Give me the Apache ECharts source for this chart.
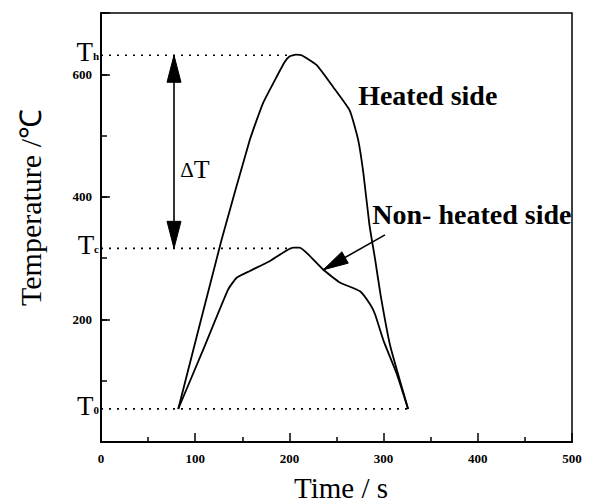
<!DOCTYPE html>
<html><head><meta charset="utf-8">
<script src="https://cdn.jsdelivr.net/npm/echarts@6/dist/echarts.min.js"></script>
<style>html,body{margin:0;padding:0;background:#fff}#c{width:593px;height:504px}</style>
</head><body><div id="c"></div>
<script>
// ---- data ----
const heatedTime = [82, 128, 158, 172, 186.5, 195, 200, 207, 213, 229, 246.6, 264, 273, 278.5, 285, 291, 297, 307, 326];
const heatedTemp = [54, 330, 493, 553, 596, 620, 629, 632, 631, 615, 579, 541, 493, 439, 354, 298, 238, 157, 54];
const nonHeatedTime = [82, 108.6, 135, 144, 158, 179, 204, 211, 220, 236, 254, 275, 286, 291, 300, 314, 326];
const nonHeatedTemp = [54, 151, 249, 268, 279, 295, 317, 317, 306, 281, 260, 246, 224, 208, 165, 111, 54];

const xTickLabels = [0, 100, 200, 300, 400, 500];
const yTickLabels = [200, 400, 600];

// reference levels Th, Tc, T0
const refNames = ['h', 'c', '0'];
const refTemp = [631, 316, 54];
const refEndTime = [200, 203, 326];

// text notes
const noteText = ['Heated side', 'Non- heated side'];
const noteTime = [273, 288];
const noteTemp = [565, 372];
const deltaText = 'ΔT';
const deltaTime = 84;
const deltaTemp = 444;

// arrows: from -> to, doubleHead flag
const arrowFromTime = [77.5, 301.5];
const arrowFromTemp = [316, 338];
const arrowToTime = [77.5, 236];
const arrowToTemp = [631, 281];
const arrowDouble = [1, 0];

const serif = "'Liberation Serif','Times New Roman',serif";
const pairs = (xs, ys) => xs.map((x, i) => [x, ys[i]]);

const chart = echarts.init(document.getElementById('c'), null, {renderer: 'svg'});

const refSeries = refTemp.map((v, i) => ({
  type: 'line', silent: true, showSymbol: false, symbol: 'none',
  data: [[0, v], [refEndTime[i], v]],
  lineStyle: {color: '#000', width: 1.6, type: [2, 6]},
  z: 2
}));

function arrowHead(tip, tail, L, W) {
  const dx = tip[0] - tail[0], dy = tip[1] - tail[1];
  const len = Math.hypot(dx, dy) || 1;
  const ux = dx / len, uy = dy / len;
  const bx = tip[0] - ux * L, by = tip[1] - uy * L;
  return {type: 'polygon', shape: {points: [tip, [bx - uy * W / 2, by + ux * W / 2], [bx + uy * W / 2, by - ux * W / 2]]},
    style: {fill: '#000', stroke: '#000', lineWidth: 1}};
}

const option = {
  animation: false,
  backgroundColor: '#fff',
  grid: {left: 101, top: 13, right: 21, bottom: 62, show: true, borderColor: '#000', borderWidth: 1.5,
    backgroundColor: 'transparent', containLabel: false, outerBoundsMode: 'none'},
  xAxis: {
    type: 'value', min: 0, max: 500, interval: 100,
    name: 'Time / s', nameLocation: 'middle', nameGap: 31, nameMoveOverlap: false,
    nameTextStyle: {fontFamily: serif, fontSize: 29, color: '#000', padding: [0, 0, 0, 9]},
    axisLine: {show: true, onZero: false, lineStyle: {color: '#000', width: 2}},
    axisTick: {show: true, inside: true, length: 9, lineStyle: {color: '#000', width: 1.5}},
    minorTick: {show: true, splitNumber: 2, length: 5, lineStyle: {color: '#000', width: 1.5}},
    axisLabel: {margin: 10, fontFamily: serif, fontWeight: 'bold', fontSize: 13, color: '#000',
      showMinLabel: true, showMaxLabel: true, hideOverlap: false,
      formatter: v => xTickLabels.includes(v) ? String(v) : ''},
    splitLine: {show: false}, minorSplitLine: {show: false}
  },
  yAxis: [{
    type: 'value', min: 0, max: 700, interval: 200, position: 'left',
    name: 'Temperature /℃', nameLocation: 'middle', nameGap: 56, nameRotate: 90, nameMoveOverlap: false,
    nameTextStyle: {fontFamily: serif, fontSize: 30, color: '#000', padding: [0, 0, 0, 40]},
    axisLine: {show: true, onZero: false, lineStyle: {color: '#000', width: 2}},
    axisTick: {show: true, inside: true, length: 9, lineStyle: {color: '#000', width: 1.5}},
    axisLabel: {margin: 9, fontFamily: serif, fontWeight: 'bold', fontSize: 13, color: '#000',
      showMinLabel: true, showMaxLabel: true, hideOverlap: false,
      formatter: v => yTickLabels.includes(v) ? String(v) : ''},
    splitLine: {show: false}
  }, {
    type: 'value', min: 0, max: 700, interval: 100, position: 'left',
    axisLine: {show: false},
    axisTick: {show: true, inside: true, length: 6, lineStyle: {color: '#000', width: 1.5}},
    axisLabel: {show: false},
    splitLine: {show: false}
  }],
  series: [
    {type: 'line', name: 'Heated side', data: pairs(heatedTime, heatedTemp), showSymbol: false, symbol: 'none',
      smooth: 0.15, lineStyle: {color: '#000', width: 1.8}, silent: true, z: 3},
    {type: 'line', name: 'Non- heated side', data: pairs(nonHeatedTime, nonHeatedTemp), showSymbol: false, symbol: 'none',
      smooth: 0.15, lineStyle: {color: '#000', width: 1.8}, silent: true, z: 3},
    ...refSeries,
    {
      type: 'custom', silent: true, z: 5, clip: false,
      data: arrowFromTime.map((t, i) => [t, arrowFromTemp[i], arrowToTime[i], arrowToTemp[i], arrowDouble[i]]),
      renderItem: (p, api) => {
        const a = api.coord([api.value(0), api.value(1)]);
        const b = api.coord([api.value(2), api.value(3)]);
        const both = api.value(4) === 1;
        const L = both ? 27 : 25, W = both ? 14 : 13;
        const children = [
          {type: 'line', shape: {x1: a[0], y1: a[1], x2: b[0], y2: b[1]}, style: {stroke: '#000', lineWidth: 1.6}},
          arrowHead(b, a, L, W)
        ];
        if (both) children.push(arrowHead(a, b, L, W));
        return {type: 'group', children};
      }
    },
    {
      type: 'custom', silent: true, z: 6, clip: false,
      data: refTemp.map((v, i) => [0, v, i]),
      renderItem: (p, api) => {
        const pt = api.coord([api.value(0), api.value(1)]);
        const i = api.value(2);
        return {type: 'text', x: pt[0] - 2, y: pt[1] - 3,
          style: {text: '{T|T}{s|' + refNames[i] + '}', align: 'right', verticalAlign: 'middle',
            rich: {T: {fontSize: 27, fontFamily: serif, fill: '#000'},
                   s: {fontSize: 11, fontFamily: serif, fontWeight: 'bold', fill: '#000', verticalAlign: 'bottom', padding: [0, 0, 4, 0]}}}};
      }
    },
    {
      type: 'custom', silent: true, z: 6, clip: false,
      data: noteTime.map((t, i) => [t, noteTemp[i], i]),
      renderItem: (p, api) => {
        const pt = api.coord([api.value(0), api.value(1)]);
        const i = api.value(2);
        return {type: 'text', x: pt[0], y: pt[1],
          style: {text: noteText[i], fill: '#000', fontSize: 28, fontWeight: 'bold', fontFamily: serif,
            align: 'left', verticalAlign: 'middle'}};
      }
    },
    {
      type: 'custom', silent: true, z: 6, clip: false,
      data: [[deltaTime, deltaTemp]],
      renderItem: (p, api) => {
        const pt = api.coord([api.value(0), api.value(1)]);
        return {type: 'text', x: pt[0], y: pt[1],
          style: {text: '{d|' + deltaText.charAt(0) + '}{t|' + deltaText.slice(1) + '}', align: 'left', verticalAlign: 'middle',
            rich: {d: {fontSize: 21, fontFamily: serif, fill: '#000', verticalAlign: 'bottom', padding: [0, 0, 2, 0]},
                   t: {fontSize: 26, fontFamily: serif, fill: '#000'}}}};
      }
    }
  ]
};
chart.setOption(option);
</script></body></html>
